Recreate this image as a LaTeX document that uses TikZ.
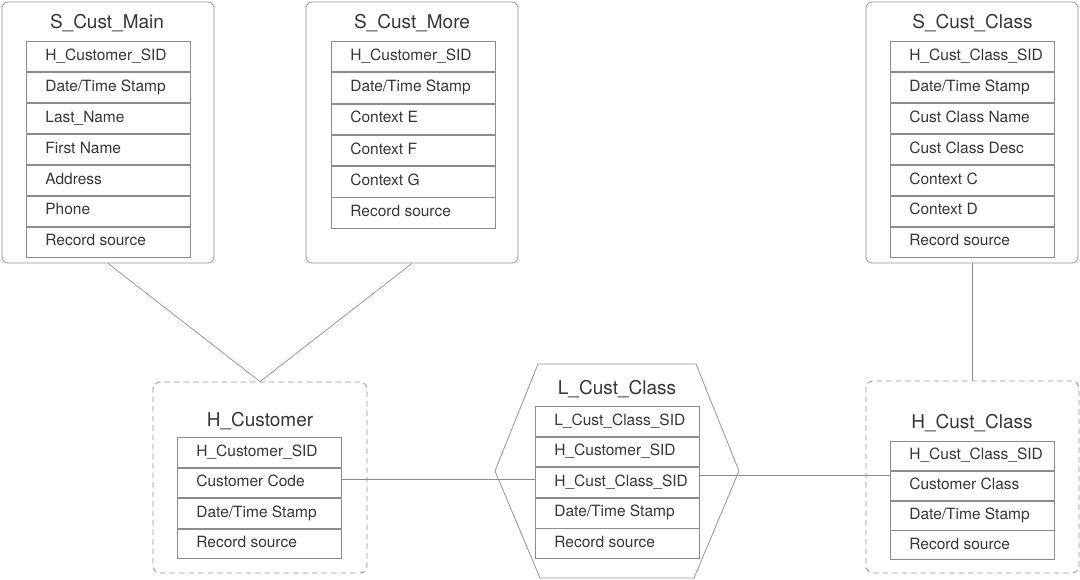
\documentclass[tikz,border=0pt]{standalone}
\usepackage{fontspec}
\setmainfont{TeX Gyre Heros}
\usetikzlibrary{calc}
\definecolor{txt}{HTML}{363636}
\definecolor{ln}{HTML}{8C8C8C}
\definecolor{bx}{HTML}{959595}
\newcommand\rt[1]{\makebox[164pt][l]{\hspace*{19pt}#1}}
\begin{document}
\begin{tikzpicture}[x=1pt,y=-1pt,
  row/.style={draw=ln, line width=0.8pt, anchor=north west, minimum height=#1, inner sep=0pt,
    text height=11pt, text depth=3.5pt, font=\fontsize{15.5}{18}\selectfont, text=txt},
  title/.style={anchor=base, font=\fontsize{19}{22}\selectfont, text=txt, inner sep=0pt},
  sbox/.style={draw=bx, rounded corners=6pt, line width=0.8pt, inner sep=0pt, minimum width=212pt, minimum height=261pt},
  hbox/.style={draw=bx, line width=0.8pt, dash pattern=on 5.5pt off 4pt, rounded corners=7pt, inner sep=0pt},
  hexa/.style={draw=bx, line width=0.8pt},
  conn/.style={draw=ln, line width=0.7pt}]
\useasboundingbox (0,0) rectangle (1080,580);
\fill[white] (0,0) rectangle (1080,580);

% ---------- S_Cust_Main
\node[sbox] (smain) at (108,132.5) {};
\node[title] (smainT) at (107,29) {S\_Cust\_Main};
\node[row=30.15pt] (m1) at (26,41) {\rt{H\_Customer\_SID}};
\node[row=30.15pt] (m2) at (m1.south west) {\rt{Date/Time Stamp}};
\node[row=30.15pt] (m3) at (m2.south west) {\rt{Last\_Name}};
\node[row=30.15pt] (m4) at (m3.south west) {\rt{First Name}};
\node[row=30.15pt] (m5) at (m4.south west) {\rt{Address}};
\node[row=30.15pt] (m6) at (m5.south west) {\rt{Phone}};
\node[row=30.15pt] (m7) at (m6.south west) {\rt{Record source}};

% ---------- S_Cust_More
\node[sbox] (smore) at (412,132.5) {};
\node[title] (smoreT) at (412,29) {S\_Cust\_More};
\node[row=30.5pt] (o1) at (331,41) {\rt{H\_Customer\_SID}};
\node[row=30.5pt] (o2) at (o1.south west) {\rt{Date/Time Stamp}};
\node[row=30.5pt] (o3) at (o2.south west) {\rt{Context E}};
\node[row=30.5pt] (o4) at (o3.south west) {\rt{Context F}};
\node[row=30.5pt] (o5) at (o4.south west) {\rt{Context G}};
\node[row=30.5pt] (o6) at (o5.south west) {\rt{Record source}};

% ---------- S_Cust_Class
\node[sbox] (sclass) at (972,132.5) {};
\node[title] (sclassT) at (972.5,29) {S\_Cust\_Class};
\node[row=30.15pt] (c1) at (890,41) {\rt{H\_Cust\_Class\_SID}};
\node[row=30.15pt] (c2) at (c1.south west) {\rt{Date/Time Stamp}};
\node[row=30.15pt] (c3) at (c2.south west) {\rt{Cust Class Name}};
\node[row=30.15pt] (c4) at (c3.south west) {\rt{Cust Class Desc}};
\node[row=30.15pt] (c5) at (c4.south west) {\rt{Context C}};
\node[row=30.15pt] (c6) at (c5.south west) {\rt{Context D}};
\node[row=30.15pt] (c7) at (c6.south west) {\rt{Record source}};

% ---------- H_Customer
\node[hbox, minimum width=214pt, minimum height=191pt] (hcust) at (260,477.5) {};
\node[title] (hcustT) at (260,426) {H\_Customer};
\node[row=29.7pt] (hc1) at (177,437) {\rt{H\_Customer\_SID}};
\node[row=29.7pt] (hc2) at (hc1.south west) {\rt{Customer Code}};
\node[row=29.7pt] (hc3) at (hc2.south west) {\rt{Date/Time Stamp}};
\node[row=29.7pt] (hc4) at (hc3.south west) {\rt{Record source}};

% ---------- L_Cust_Class
\draw[hexa] (538,364) coordinate (hx1) -- (696,364) coordinate (hx2) -- (739,471) coordinate (hx3)
  -- (694,578) coordinate (hx4) -- (540,578) coordinate (hx5) -- (495,471) coordinate (hx6) -- cycle;
\node[title] (lT) at (617,394) {L\_Cust\_Class};
\node[row=29.8pt] (lc1) at (535,406) {\rt{L\_Cust\_Class\_SID}};
\node[row=29.8pt] (lc2) at (lc1.south west) {\rt{H\_Customer\_SID}};
\node[row=29.8pt] (lc3) at (lc2.south west) {\rt{H\_Cust\_Class\_SID}};
\node[row=29.8pt] (lc4) at (lc3.south west) {\rt{Date/Time Stamp}};
\node[row=29.8pt] (lc5) at (lc4.south west) {\rt{Record source}};

% ---------- H_Cust_Class
\node[hbox, minimum width=213pt, minimum height=192pt] (hclass) at (972.5,477) {};
\node[title] (hclassT) at (972,428) {H\_Cust\_Class};
\node[row=29pt] (hk1) at (890,441) {\rt{H\_Cust\_Class\_SID}};
\node[row=29pt] (hk2) at (hk1.south west) {\rt{Customer Class}};
\node[row=29pt] (hk3) at (hk2.south west) {\rt{Date/Time Stamp}};
\node[row=29pt] (hk4) at (hk3.south west) {\rt{Record source}};

% ---------- connectors
\draw[conn] (smain.south) -- (hcust.north);
\draw[conn] (smore.south) -- (hcust.north);
\draw[conn] (sclass.south) -- (sclass.south |- hclass.north);
\draw[conn] ([yshift=3pt]lc3.west) -- ([yshift=3pt]lc3.west -| hc2.east);
\draw[conn] ([yshift=7pt]lc3.east) -- ([yshift=7pt]lc3.east -| hk1.west);
\end{tikzpicture}
\end{document}
